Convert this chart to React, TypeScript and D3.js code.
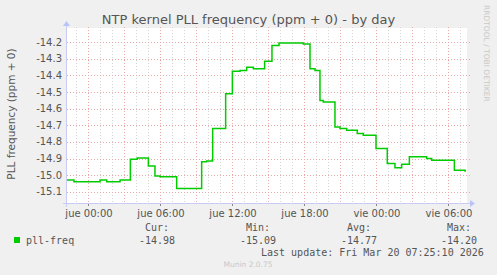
import { useRef, useEffect } from 'react';
import * as d3 from 'd3';

// hours since "jue 00:00" where each step starts, and the pll-freq value from there on
const stepHours = [
	-1.75, -1.17, 1.0, 1.56, 2.67, 3.53, 4.1, 5.03, 5.58, 6.0, 7.39, 9.47, 9.89, 10.39, 11.47,
	12.03, 12.67, 13.22, 13.78, 14.72, 15.33, 15.92, 17.94, 18.5, 18.92, 19.33, 19.61, 20.58, 21.0,
	21.56, 22.44, 22.94, 24.0, 24.94, 25.58, 26.14, 26.78, 28.22, 28.64, 30.53, 31.42,
];
const stepValues = [
	-15.03, -15.04, -15.03, -15.04, -15.03, -14.905, -14.897, -14.945, -15.005, -15.01, -15.08,
	-14.92, -14.915, -14.72, -14.51, -14.375, -14.37, -14.35, -14.36, -14.315, -14.22, -14.205,
	-14.21, -14.36, -14.37, -14.55, -14.56, -14.71, -14.72, -14.73, -14.75, -14.76, -14.84, -14.93,
	-14.955, -14.935, -14.89, -14.9, -14.91, -14.97, -14.975,
];

const yTicks = [-15.1, -15.0, -14.9, -14.8, -14.7, -14.6, -14.5, -14.4, -14.3, -14.2];
const xTickHours = [0, 6, 12, 18, 24, 30];
const xTickLabels = ['jue 00:00', 'jue 06:00', 'jue 12:00', 'jue 18:00', 'vie 00:00', 'vie 06:00'];

const legendHeaders = ['Cur:', 'Min:', 'Avg:', 'Max:'];
const legendValues = ['-14.98', '-15.09', '-14.77', '-14.20'];

const W = 497;
const H = 275;

const App = () => {
	const svgRef = useRef<SVGSVGElement>(null);

	useEffect(() => {
		const svg = d3.select(svgRef.current);
		svg.selectAll('*').remove();

		const left = 67;
		const right = 467;
		const top = 28;
		const bottom = 203;

		const x = d3.scaleLinear().domain([-1.75, 31.583]).range([left, right]);
		const y = d3.scaleLinear().domain([-15.168, -14.114]).range([bottom, top]);
		const snap = (v: number) => Math.round(v) + 0.5;

		svg.append('rect').attr('width', W).attr('height', H).attr('fill', '#f0f0f0');
		svg
			.append('rect')
			.attr('x', left)
			.attr('y', top)
			.attr('width', right - left)
			.attr('height', bottom - top)
			.attr('fill', '#ffffff');

		// vertical grid: grey every hour, red every 3 hours
		const hours = d3.range(-1, 32);
		svg
			.append('g')
			.selectAll('line')
			.data(hours)
			.enter()
			.append('line')
			.attr('x1', (d) => snap(x(d)))
			.attr('x2', (d) => snap(x(d)))
			.attr('y1', top - 1)
			.attr('y2', bottom)
			.attr('stroke', (d) => (d % 3 === 0 ? '#eaa8a8' : '#d4d4d4'))
			.attr('stroke-dasharray', '1,2');

		// horizontal grid
		svg
			.append('g')
			.selectAll('line')
			.data(yTicks)
			.enter()
			.append('line')
			.attr('x1', left)
			.attr('x2', right + 3)
			.attr('y1', (d) => snap(y(d)))
			.attr('y2', (d) => snap(y(d)))
			.attr('stroke', '#eaa8a8')
			.attr('stroke-dasharray', '1,2');

		// y tick labels
		svg
			.append('g')
			.selectAll('text')
			.data(yTicks)
			.enter()
			.append('text')
			.attr('x', left - 5)
			.attr('y', (d) => y(d) + 3.5)
			.attr('text-anchor', 'end')
			.attr('font-family', 'DejaVu Sans')
			.attr('font-size', 10)
			.attr('fill', '#555')
			.text((d) => d3.format('.1f')(d).replace('−', '-'));

		// x tick labels
		svg
			.append('g')
			.selectAll('text')
			.data(xTickHours)
			.enter()
			.append('text')
			.attr('x', (d) => x(d) + 1)
			.attr('y', 217)
			.attr('text-anchor', 'middle')
			.attr('font-family', 'DejaVu Sans')
			.attr('font-size', 10)
			.attr('fill', '#555')
			.text((d, i) => xTickLabels[i]);

		// small tick marks below x axis
		svg
			.append('g')
			.selectAll('line')
			.data(xTickHours)
			.enter()
			.append('line')
			.attr('x1', (d) => snap(x(d)))
			.attr('x2', (d) => snap(x(d)))
			.attr('y1', bottom + 1)
			.attr('y2', bottom + 3)
			.attr('stroke', '#888');

		// axes
		const axisColor = '#c8ccf4';
		svg
			.append('line')
			.attr('x1', left - 4)
			.attr('x2', right + 3)
			.attr('y1', bottom + 0.5)
			.attr('y2', bottom + 0.5)
			.attr('stroke', axisColor);
		svg
			.append('line')
			.attr('x1', left - 0.5)
			.attr('x2', left - 0.5)
			.attr('y1', bottom + 4)
			.attr('y2', top - 3)
			.attr('stroke', axisColor);
		svg
			.append('path')
			.attr('d', `M${right + 3},${bottom - 3} L${right + 8},${bottom + 0.5} L${right + 3},${bottom + 4} Z`)
			.attr('fill', '#b8c4f8');
		svg
			.append('path')
			.attr('d', `M${left - 4},${top - 2} L${left - 0.5},${top - 7} L${left + 3},${top - 2} Z`)
			.attr('fill', '#b8c4f8');

		// the data line
		const pts: [number, number][] = stepHours.map((h, i) => [h, stepValues[i]]);
		pts.push([31.5, stepValues[stepValues.length - 1]]);
		const line = d3
			.line<[number, number]>()
			.x((d) => x(d[0]))
			.y((d) => y(d[1]))
			.curve(d3.curveStepAfter);
		svg
			.append('path')
			.datum(pts)
			.attr('d', line)
			.attr('fill', 'none')
			.attr('stroke', '#00cc00')
			.attr('stroke-width', 1.5);

		// title
		svg
			.append('text')
			.attr('x', W / 2)
			.attr('y', 24)
			.attr('text-anchor', 'middle')
			.attr('font-family', 'DejaVu Sans')
			.attr('font-size', 13)
			.attr('fill', '#555')
			.text('NTP kernel PLL frequency (ppm + 0) - by day');

		// y axis title
		svg
			.append('text')
			.attr('transform', `translate(15, 114) rotate(-90)`)
			.attr('text-anchor', 'middle')
			.attr('font-family', 'DejaVu Sans')
			.attr('font-size', 10.5)
			.attr('fill', '#555')
			.text('PLL frequency (ppm + 0)');

		// rrdtool watermark
		svg
			.append('text')
			.attr('transform', `translate(484, 5) rotate(90)`)
			.attr('text-anchor', 'start')
			.attr('font-family', 'DejaVu Sans')
			.attr('font-size', 7.5)
			.attr('fill', '#c8c8c8')
			.text('RRDTOOL / TOBI OETIKER');

		// legend
		const mono = 'DejaVu Sans Mono';
		svg.append('rect').attr('x', 14).attr('y', 237).attr('width', 6).attr('height', 6).attr('fill', '#00cc00');
		svg
			.append('text')
			.attr('x', 26)
			.attr('y', 244)
			.attr('font-family', mono)
			.attr('font-size', 10)
			.attr('fill', '#555')
			.text('pll-freq');

		const colX = [139, 240, 341, 441];
		legendHeaders.forEach((h, i) => {
			svg
				.append('text')
				.attr('x', colX[i] + 6)
				.attr('y', 231)
				.attr('font-family', mono)
				.attr('font-size', 10)
				.attr('fill', '#555')
				.text(h);
			svg
				.append('text')
				.attr('x', colX[i])
				.attr('y', 244)
				.attr('font-family', mono)
				.attr('font-size', 10)
				.attr('fill', '#555')
				.text(legendValues[i]);
		});

		svg
			.append('text')
			.attr('x', 261)
			.attr('y', 255.5)
			.attr('font-family', mono)
			.attr('font-size', 10)
			.attr('fill', '#555')
			.text('Last update: Fri Mar 20 07:25:10 2026');

		svg
			.append('text')
			.attr('x', 248)
			.attr('y', 267)
			.attr('text-anchor', 'middle')
			.attr('font-family', 'DejaVu Sans')
			.attr('font-size', 7.5)
			.attr('fill', '#c8c8c8')
			.text('Munin 2.0.75');
	}, []);

	return (
		<div style={{ position: 'absolute', left: 0, top: 0 }}>
			<svg ref={svgRef} width={W} height={H} style={{ display: 'block' }} />
		</div>
	);
};

export default App;
